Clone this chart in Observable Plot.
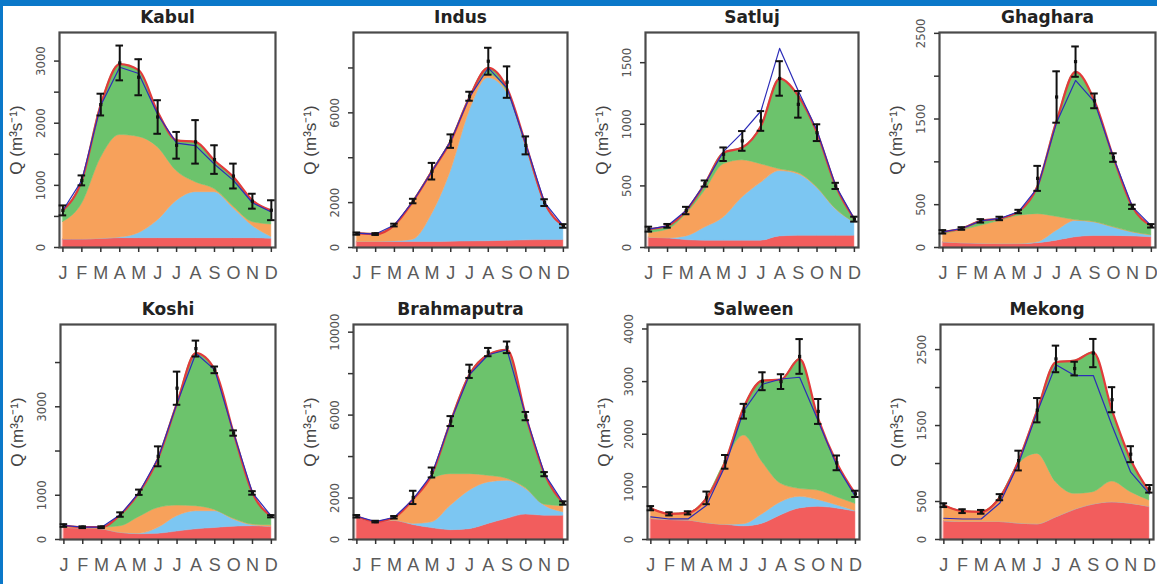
<!DOCTYPE html>
<html>
<head>
<meta charset="utf-8">
<script src="https://cdn.jsdelivr.net/npm/d3@7"></script>
<script src="https://cdn.jsdelivr.net/npm/@observablehq/plot@0.6"></script>
<style>
  body { margin: 0; background: #fff; }
  #chart { position: relative; width: 1157px; height: 584px; overflow: hidden; background: #fff; }
  .strip-top { position: absolute; left: 0; top: 0; width: 1157px; height: 6px; background: #0b78c9; z-index: 5; }
  .strip-left { position: absolute; left: 0; top: 0; width: 3px; height: 584px; background: #0b78c9; z-index: 5; }
  .panel { position: absolute; }
</style>
</head>
<body>
<div id="chart"><div class="strip-top"></div><div class="strip-left"></div></div>
<script>
// ---------------- DATA ----------------
const months = ["J","F","M","A","M","J","J","A","S","O","N","D"];
const basins = ["Kabul","Indus","Satluj","Ghaghara","Koshi","Brahmaputra","Salween","Mekong"];
const compNames = ["Baseflow","Glacier melt","Snow melt","Rainfall-runoff"];
const yTitle = "Q (m³s⁻¹)";

// stacked components, one row per basin (same order as basins), Jan..Dec
const baseflow = [
  [130,130,140,150,150,150,150,150,150,150,150,140],
  [250,250,250,250,250,260,270,280,300,320,330,330],
  [80,75,60,55,55,55,55,90,95,95,95,95],
  [60,50,45,40,40,50,80,120,135,135,130,120],
  [260,250,230,150,120,130,180,230,260,290,300,290],
  [1050,850,900,700,550,450,500,750,1000,1200,1150,1150],
  [390,370,360,310,280,250,300,460,590,620,590,530],
  [240,230,230,230,210,200,290,390,460,490,470,430]
];
const glacierMelt = [
  [0,0,0,10,80,285,600,740,740,480,200,30],
  [0,0,20,100,1230,3140,5800,7270,6600,4200,1640,600],
  [0,0,30,107,188,350,470,530,500,390,215,108],
  [0,0,0,0,0,10,115,190,157,98,45,20],
  [0,0,0,0,10,133,346,409,379,160,20,0],
  [0,0,0,50,282,1182,1852,2002,1832,1232,482,162],
  [0,0,0,0,0,40,180,250,220,130,60,10],
  [0,0,0,0,0,0,0,0,0,0,0,0]
];
const snowMelt = [
  [280,570,1300,1650,1550,1180,480,160,50,30,60,200],
  [390,350,730,1720,1920,1340,530,150,50,30,30,30],
  [40,70,180,298,433,303,151,15,10,5,5,0],
  [95,150,208,271,330,329,163,10,5,5,5,5],
  [40,20,40,150,381,451,241,113,30,20,20,30],
  [50,0,150,1150,2080,1520,800,320,100,50,50,300],
  [205,117,146,481,1195,1685,989,347,152,180,154,137],
  [212,143,134,327,780,927,464,211,163,273,153,83]
];
const rainRunoff = [
  [190,380,860,1140,1075,570,495,650,460,475,350,225],
  [0,0,0,0,0,0,100,300,150,50,0,0],
  [28,31,30,59,94,103,310,735,625,442,185,27],
  [28,22,58,28,50,331,1120,1730,1415,812,295,108],
  [16,8,8,264,557,1128,2316,3459,3166,1936,713,206],
  [20,14,22,50,240,2560,4800,5840,6220,3470,1470,148],
  [0,0,0,0,0,538,1550,1981,2468,1361,652,190],
  [0,0,0,0,49,575,1579,1754,1842,937,427,117]
];
// second simulated discharge line (navy)
const simLine = [
  [600,1080,2290,2900,2800,2140,1680,1640,1340,1080,720,570],
  [640,600,1000,2070,3400,4740,6700,8000,7100,4600,2000,960],
  [149,176,300,519,780,932,1108,1616,1270,950,500,230],
  [183,222,311,339,420,700,1460,1950,1700,1050,475,253],
  [316,278,278,564,1068,1842,3083,4211,3835,2406,1053,526],
  [1120,864,1072,1950,3152,5712,7952,8912,9152,5952,3152,1760],
  [430,390,390,650,1400,2450,2950,3050,3083,2250,1400,820],
  [280,270,270,480,1000,1680,2300,2158,2158,1500,886,600]
];
// observed mean and standard deviation (error bars)
const obsMean = [
  [597,1080,2300,2970,2740,2100,1645,1700,1415,1150,745,600],
  [620,600,1000,2070,3400,4740,6740,8300,7370,4550,2000,960],
  [149,176,300,519,757,865,1027,1372,1162,932,500,230],
  [183,222,311,339,420,807,1757,2170,1712,1050,475,253],
  [316,278,278,564,1068,1880,3420,4316,3835,2406,1053,526],
  [1120,864,1072,2030,3232,5712,8112,9040,9270,5952,3152,1760],
  [595,487,506,791,1475,2437,3007,3000,3478,2433,1456,867],
  [452,373,364,557,1039,1702,2377,2250,2454,1840,1123,667]
];
const obsSd = [
  [80,80,175,280,290,270,215,350,230,200,120,160],
  [50,40,60,100,370,300,200,600,700,400,150,80],
  [20,15,30,25,55,80,80,140,108,68,25,20],
  [20,15,20,20,20,146,300,177,86,50,25,20],
  [30,20,20,50,60,225,375,180,75,60,40,25],
  [60,40,60,320,240,240,320,200,280,200,100,80],
  [40,30,30,120,130,140,170,140,330,237,140,60],
  [25,25,25,40,130,160,175,90,186,165,105,50]
];
// y axes
const yMax = [3460, 9580, 1745, 2510, 4860, 10370, 4085, 2830];
const yTicks = [
  [0,500,1000,1500,2000,2500,3000],
  [0,2000,4000,6000,8000],
  [0,500,1000,1500],
  [0,500,1000,1500,2000,2500],
  [0,1000,2000,3000,4000],
  [0,2000,4000,6000,8000,10000],
  [0,1000,2000,3000,4000],
  [0,500,1000,1500,2000,2500]
];
const yLabels = [
  [0,1000,2000,3000],
  [0,2000,6000],
  [0,500,1000,1500],
  [0,500,1500,2500],
  [0,1000,3000],
  [0,2000,6000,10000],
  [0,1000,2000,3000,4000],
  [0,500,1500,2500]
];

// ---------------- LAYOUT / STYLE ----------------
const compColors = ["#f25d5d", "#7cc6f2", "#f7a15b", "#6cc36c"];
const layers = [baseflow, glacierMelt, snowMelt, rainRunoff];
const colX = [0, 290, 580, 868];
const rowY = [0, 292];
const panelW = [290, 290, 288, 289];
const panelH = 292;
const frameL = [59, 63, 65, 71, 60, 63, 67, 72];
const frameR = [275, 277, 278, 287, 275, 277, 279, 285];
const frameT = 32, frameB = 247;
const sansFont = "'Liberation Sans', Arial, Helvetica, sans-serif";
const narrowFont = "'Liberation Sans Narrow', 'DejaVu Sans Condensed', 'Liberation Sans', sans-serif";
const titleFont = "'DejaVu Sans', 'Liberation Sans', sans-serif";

const chart = document.getElementById("chart");
const monthIdx = d3.range(1, 13);

basins.forEach((name, b) => {
  const col = b % 4, row = Math.floor(b / 4);
  const W = panelW[col];

  const rows = [];
  layers.forEach((layer, k) => {
    layer[b].forEach((v, i) => rows.push({month: i + 1, value: v, comp: compNames[k]}));
  });
  const totals = monthIdx.map((m, i) => ({month: m, total: d3.sum(layers, L => L[b][i])}));
  const sim = monthIdx.map((m, i) => ({month: m, q: simLine[b][i]}));
  const obs = monthIdx.map((m, i) => ({month: m, mean: obsMean[b][i], sd: obsSd[b][i]}));

  const svg = Plot.plot({
    width: W,
    height: panelH,
    marginLeft: frameL[b],
    marginRight: W - frameR[b],
    marginTop: frameT,
    marginBottom: panelH - frameB,
    style: {fontFamily: sansFont, background: "transparent", overflow: "visible"},
    x: {domain: [0.82, 12.22]},
    y: {domain: [0, yMax[b]]},
    color: {domain: compNames, range: compColors},
    marks: [
      Plot.areaY(rows, {x: "month", y: "value", fill: "comp", stroke: "comp", strokeWidth: 0.5, curve: "monotone-x"}),
      Plot.lineY(totals, {x: "month", y: "total", stroke: "#e23b3b", strokeWidth: 2.2, curve: "monotone-x"}),
      Plot.lineY(sim, {x: "month", y: "q", stroke: "#2c2cb8", strokeWidth: 1.2}),
      Plot.frame({stroke: "#4a4a4a", strokeWidth: 2.2}),
      Plot.ruleX(obs, {x: "month", y1: d => d.mean - d.sd, y2: d => d.mean + d.sd, stroke: "#111", strokeWidth: 2}),
      Plot.ruleY(obs, {y: d => d.mean + d.sd, x1: d => d.month - 0.2, x2: d => d.month + 0.2, stroke: "#111", strokeWidth: 2}),
      Plot.ruleY(obs, {y: d => d.mean - d.sd, x1: d => d.month - 0.2, x2: d => d.month + 0.2, stroke: "#111", strokeWidth: 2}),
      Plot.dot(obs, {x: "month", y: "mean", symbol: "square", r: 1.8, fill: "#111"}),
      Plot.axisX({ticks: monthIdx, tickSize: 5, tickFormat: () => "", label: null, stroke: "#333", strokeWidth: 1.5}),
      Plot.text(monthIdx, {x: d => d, text: (d, i) => months[i], frameAnchor: "bottom", dy: 26, lineAnchor: "middle",
        fontSize: 18, fill: "#5a5a5a", fontFamily: sansFont}),
      Plot.axisY({ticks: yTicks[b], tickSize: 5, tickFormat: () => "", label: null, stroke: "#333", strokeWidth: 1.5}),
      Plot.text(yLabels[b], {y: d => d, text: d => String(d), frameAnchor: "left", dx: -19, rotate: -90,
        textAnchor: "middle", lineAnchor: "middle", fontSize: 13, fill: "#555", fontFamily: narrowFont}),
      Plot.text([yTitle], {text: d => d, frameAnchor: "left", dx: -43, rotate: -90, textAnchor: "middle",
        lineAnchor: "middle", fontSize: 17, fill: "#444", fontFamily: sansFont}),
      Plot.text([name], {text: d => d, frameAnchor: "top", dy: -15, lineAnchor: "middle", textAnchor: "middle",
        fontSize: 17, fontWeight: "bold", fill: "#222", fontFamily: titleFont})
    ]
  });

  const div = document.createElement("div");
  div.className = "panel";
  div.style.left = colX[col] + "px";
  div.style.top = rowY[row] + "px";
  div.appendChild(svg);
  chart.appendChild(div);
});
</script>
</body>
</html>
